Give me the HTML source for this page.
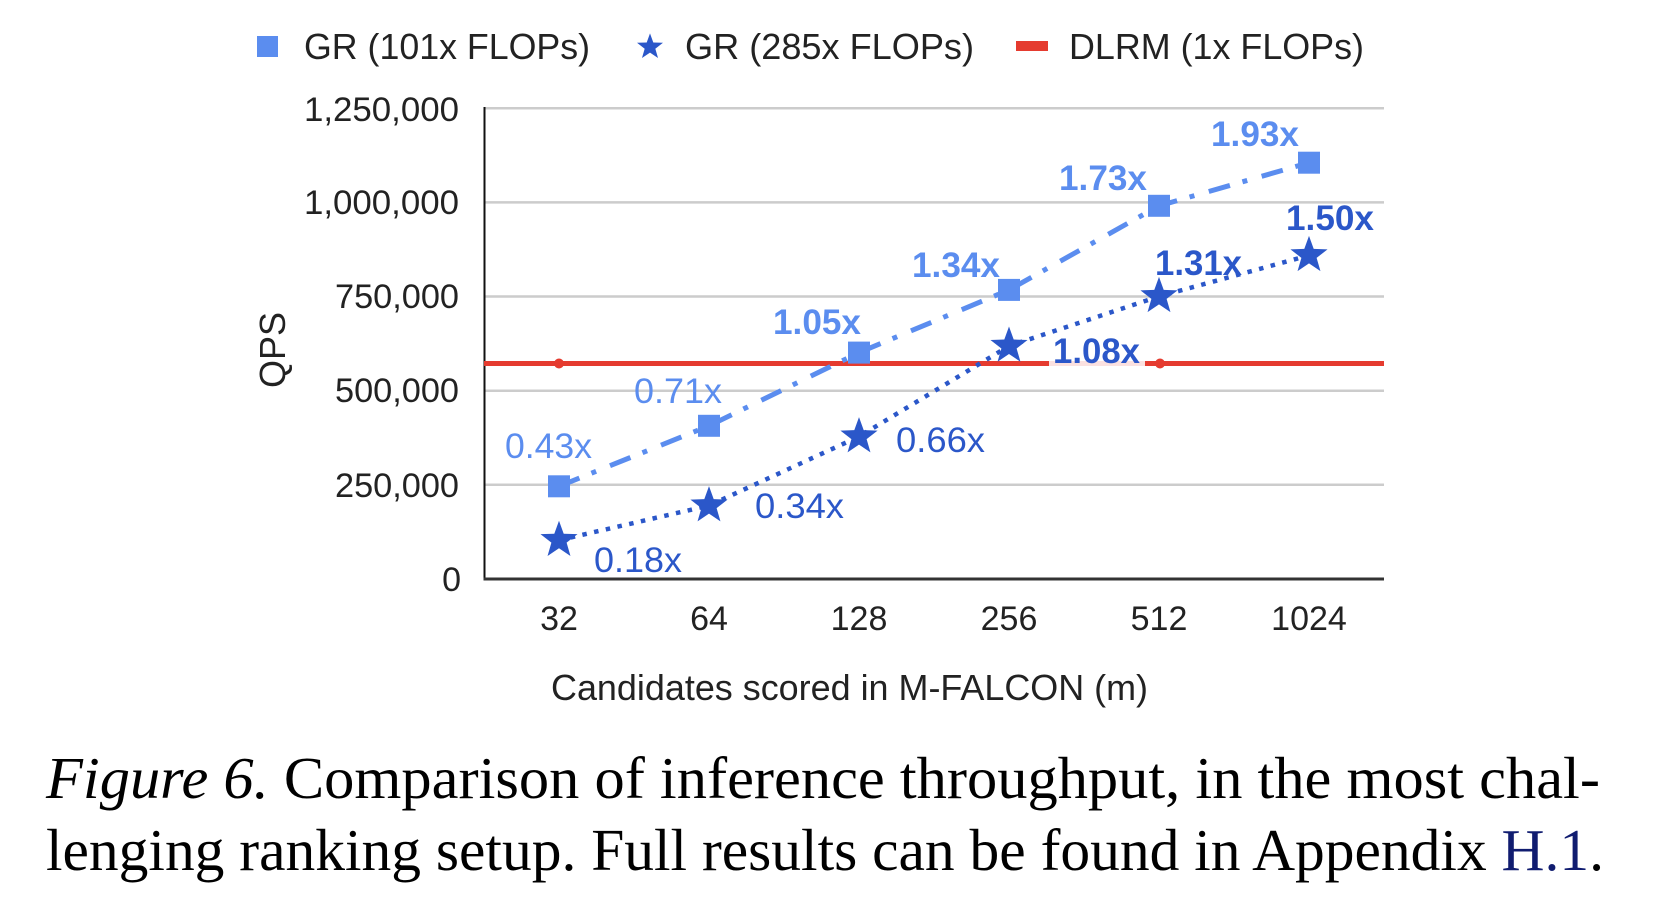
<!DOCTYPE html>
<html>
<head>
<meta charset="utf-8">
<style>
  html,body{margin:0;padding:0;background:#fff;}
  body{width:1666px;height:898px;position:relative;overflow:hidden;}
  svg{position:absolute;left:0;top:0;}
</style>
</head>
<body>
<svg width="1666" height="898" viewBox="0 0 1666 898" xmlns="http://www.w3.org/2000/svg">
  <defs>
    <path id="star" d="M0,-19.5 L4.7,-6.47 L18.55,-6.03 L7.61,2.47 L11.46,15.78 L0,8 L-11.46,15.78 L-7.61,2.47 L-18.55,-6.03 L-4.7,-6.47 Z"/>
  </defs>

  <!-- Legend -->
  <rect x="257" y="36" width="21" height="21" fill="#5b8def"/>
  <text x="304" y="59" font-family="Liberation Sans, sans-serif" font-size="36" fill="#222" textLength="286" lengthAdjust="spacingAndGlyphs">GR (101x FLOPs)</text>
  <use href="#star" transform="translate(650,47) scale(0.7)" fill="#2b57c9"/>
  <text x="685" y="59" font-family="Liberation Sans, sans-serif" font-size="36" fill="#222" textLength="289" lengthAdjust="spacingAndGlyphs">GR (285x FLOPs)</text>
  <rect x="1016" y="41" width="32" height="10" fill="#e53b2f"/>
  <text x="1069" y="59" font-family="Liberation Sans, sans-serif" font-size="36" fill="#222" textLength="295" lengthAdjust="spacingAndGlyphs">DLRM (1x FLOPs)</text>

  <!-- Gridlines -->
  <g stroke="#cccccc" stroke-width="2.5">
    <line x1="484" y1="108.3" x2="1384" y2="108.3"/>
    <line x1="484" y1="202.4" x2="1384" y2="202.4"/>
    <line x1="484" y1="296.5" x2="1384" y2="296.5"/>
    <line x1="484" y1="390.7" x2="1384" y2="390.7"/>
    <line x1="484" y1="484.8" x2="1384" y2="484.8"/>
  </g>

  <!-- Y tick labels -->
  <g font-family="Liberation Sans, sans-serif" font-size="34" fill="#222" text-anchor="end">
    <text x="459" y="121" textLength="155" lengthAdjust="spacingAndGlyphs">1,250,000</text>
    <text x="459" y="214" textLength="155" lengthAdjust="spacingAndGlyphs">1,000,000</text>
    <text x="459" y="308" textLength="124" lengthAdjust="spacingAndGlyphs">750,000</text>
    <text x="459" y="402" textLength="124" lengthAdjust="spacingAndGlyphs">500,000</text>
    <text x="459" y="497" textLength="124" lengthAdjust="spacingAndGlyphs">250,000</text>
    <text x="461" y="591">0</text>
  </g>

  <!-- Y axis title -->
  <text transform="translate(285,350) rotate(-90)" font-family="Liberation Sans, sans-serif" font-size="36" fill="#222" text-anchor="middle">QPS</text>

  <!-- Axes -->
  <line x1="484.5" y1="107" x2="484.5" y2="580" stroke="#111" stroke-width="2"/>
  <line x1="483.5" y1="579" x2="1384" y2="579" stroke="#333" stroke-width="3"/>

  <!-- X tick labels -->
  <g font-family="Liberation Sans, sans-serif" font-size="34" fill="#222" text-anchor="middle">
    <text x="559" y="630">32</text>
    <text x="709" y="630">64</text>
    <text x="859" y="630">128</text>
    <text x="1009" y="630">256</text>
    <text x="1159" y="630">512</text>
    <text x="1309" y="630">1024</text>
  </g>

  <!-- X axis title -->
  <text x="551" y="700" font-family="Liberation Sans, sans-serif" font-size="36" fill="#222" textLength="597" lengthAdjust="spacingAndGlyphs">Candidates scored in M-FALCON (m)</text>

  <!-- DLRM red line -->
  <line x1="484" y1="363.5" x2="1384" y2="363.5" stroke="#e53b2f" stroke-width="5"/>
  <circle cx="559" cy="363.5" r="5" fill="#e53b2f"/>
  <circle cx="1160" cy="363.5" r="5" fill="#e53b2f"/>
  <rect x="1049" y="357" width="96" height="12" fill="#fff" fill-opacity="0.85"/>

  <!-- GR 101x dash-dot -->
  <polyline points="559,486.3 709,425.8 859,352.6 1009,289.9 1159,205.8 1309,162.7" fill="none" stroke="#5b8def" stroke-width="5" stroke-dasharray="22 13 5 15"/>

  <!-- GR 285x dotted -->
  <polyline points="559,540.2 709,505.6 859,436.6 1009,346 1159,296.4 1309,255.4" fill="none" stroke="#2b57c9" stroke-width="4.5" stroke-dasharray="4.5 7.5"/>

  <!-- Squares -->
  <g fill="#5b8def">
    <rect x="548" y="475.3" width="22" height="22"/>
    <rect x="698" y="414.8" width="22" height="22"/>
    <rect x="848" y="341.6" width="22" height="22"/>
    <rect x="998" y="278.9" width="22" height="22"/>
    <rect x="1148" y="194.8" width="22" height="22"/>
    <rect x="1298" y="151.7" width="22" height="22"/>
  </g>

  <!-- Stars -->
  <g fill="#2b57c9">
    <use href="#star" transform="translate(559,540.2)"/>
    <use href="#star" transform="translate(709,505.6)"/>
    <use href="#star" transform="translate(859,436.6)"/>
    <use href="#star" transform="translate(1009,346)"/>
    <use href="#star" transform="translate(1159,296.4)"/>
    <use href="#star" transform="translate(1309,255.4)"/>
  </g>

  <!-- Labels GR 101x -->
  <g font-family="Liberation Sans, sans-serif" font-size="35" fill="#5b8def">
    <text x="505" y="458" textLength="87" lengthAdjust="spacingAndGlyphs">0.43x</text>
    <text x="634" y="403" textLength="88" lengthAdjust="spacingAndGlyphs">0.71x</text>
    <text x="773" y="334" font-weight="bold" textLength="88" lengthAdjust="spacingAndGlyphs">1.05x</text>
    <text x="912" y="277" font-weight="bold" textLength="88" lengthAdjust="spacingAndGlyphs">1.34x</text>
    <text x="1059" y="190" font-weight="bold" textLength="88" lengthAdjust="spacingAndGlyphs">1.73x</text>
    <text x="1211" y="146" font-weight="bold" textLength="88" lengthAdjust="spacingAndGlyphs">1.93x</text>
  </g>

  <!-- Labels GR 285x -->
  <g font-family="Liberation Sans, sans-serif" font-size="35" fill="#2b57c9">
    <text x="594" y="572" textLength="88" lengthAdjust="spacingAndGlyphs">0.18x</text>
    <text x="755" y="518" textLength="89" lengthAdjust="spacingAndGlyphs">0.34x</text>
    <text x="896" y="452" textLength="89" lengthAdjust="spacingAndGlyphs">0.66x</text>
    <text x="1053" y="363" font-weight="bold" textLength="87" lengthAdjust="spacingAndGlyphs">1.08x</text>
    <text x="1155" y="275" font-weight="bold" textLength="87" lengthAdjust="spacingAndGlyphs">1.31x</text>
    <text x="1286" y="230" font-weight="bold" textLength="88" lengthAdjust="spacingAndGlyphs">1.50x</text>
  </g>

  <!-- Caption -->
  <text x="46" y="798" font-family="Liberation Serif, serif" font-size="59" fill="#000" textLength="1554" lengthAdjust="spacingAndGlyphs"><tspan font-style="italic">Figure 6.</tspan> Comparison of inference throughput, in the most chal-</text>
  <text x="46" y="870" font-family="Liberation Serif, serif" font-size="59" fill="#000" textLength="1558" lengthAdjust="spacingAndGlyphs">lenging ranking setup. Full results can be found in Appendix <tspan fill="#101c70">H.1</tspan>.</text>
</svg>
</body>
</html>
